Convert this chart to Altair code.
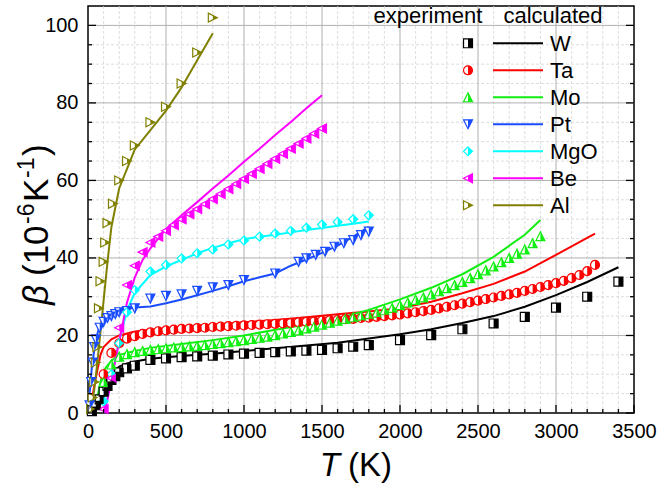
import altair as alt
import pandas as pd

materials = ["W", "Ta", "Mo", "Pt", "MgO", "Be", "Al"]
colors = ["#000000", "#ff0000", "#11ee11", "#1a4cff", "#00ffff", "#ff00ff", "#808000"]

# ---------------- experiment ----------------
W_exp_T = [25, 50, 75, 100, 125, 150, 175, 200, 250, 300, 400, 500, 600, 700, 800, 900, 1000, 1100, 1200,
           1300, 1400, 1500, 1600, 1700, 1800, 2000, 2200, 2400, 2600, 2800, 3000, 3200, 3400]
W_exp_b = [0.5, 2, 3.5, 5.5, 7, 8.5, 9.5, 10.5, 11.5, 12.2, 13.7, 14.1, 14.4, 14.6, 14.8, 15.1, 15.3, 15.5, 15.7,
           15.9, 16.1, 16.3, 16.7, 17.1, 17.5, 18.8, 20.1, 21.6, 23.1, 24.8, 27.2, 30, 33.9]

Ta_exp_T = list(range(100, 3300, 50))
Ta_exp_b = [10, 15.5, 18, 19.2, 19.8, 20.4, 20.8, 21.1, 21.3, 21.5, 21.7, 21.8, 21.9, 22.0, 22.2, 22.3, 22.4,
            22.5, 22.6, 22.7, 22.8, 22.9, 23.0, 23.1, 23.2, 23.4, 23.5, 23.6, 23.8, 23.9, 24.0, 24.2, 24.3,
            24.5, 24.6, 24.8, 25.0, 25.2, 25.4, 25.7, 26.0, 26.3, 26.6, 27.0, 27.4, 27.8, 28.2, 28.6, 29.0,
            29.4, 29.8, 30.2, 30.6, 31.0, 31.5, 32.0, 32.5, 33.0, 33.5, 34.1, 34.8, 35.6, 36.6, 38.2]

Mo_exp_T = list(range(100, 2950, 50))
Mo_exp_b = [8, 12.5, 14.5, 15.2, 15.7, 16.0, 16.3, 16.5, 16.7, 16.9, 17.0, 17.2, 17.3, 17.5, 17.8, 18.0, 18.3,
            18.5, 18.8, 19.1, 19.4, 19.7, 20.1, 20.5, 20.9, 21.3, 21.8, 22.3, 22.8, 23.3, 23.8, 24.3, 24.7,
            25.1, 25.5, 25.9, 26.5, 27.1, 27.8, 28.5, 29.2, 29.8, 30.6, 31.4, 32.2, 33.0, 33.8, 34.8, 35.8,
            36.8, 37.8, 38.9, 40.0, 41.1, 42.2, 43.8, 45.6]

Pt_exp_T = [10, 20, 30, 40, 50, 75, 100, 125, 150, 175, 200, 250, 300, 400, 500, 600, 700, 800, 900, 1000,
            1200, 1350, 1400, 1460, 1520, 1580, 1640, 1700, 1750, 1800]
Pt_exp_b = [2, 8, 13, 17, 19, 22, 23.5, 24.5, 25, 25.5, 26, 26.3, 27, 29.5, 30.2, 30.6, 31.5, 32.4, 33, 34.3,
            36, 39, 39.9, 40.8, 41.6, 42.9, 43.8, 44.6, 45.9, 46.8]

MgO_exp_T = [100, 150, 200, 250, 300, 400, 500, 600, 700, 800, 900, 1000, 1100, 1200, 1300, 1400, 1500,
             1600, 1700, 1800]
MgO_exp_b = [3, 10, 18, 26, 31.7, 36.5, 38.2, 39.9, 41.2, 42.2, 43.5, 44.5, 45.5, 46.3, 47, 47.8, 48.6,
             49.3, 50, 51]

Be_exp_T = list(range(100, 1550, 50))
Be_exp_b = [1, 9, 22, 33, 38, 41.5, 44, 45.5, 47, 48.5, 50, 51.3, 52.6, 53.9, 55.2, 56.5, 57.8, 59.1, 60.4,
            61.7, 63, 64.3, 65.6, 66.9, 68.2, 69.5, 70.8, 72.1, 73.4]

Al_exp_T = [20, 30, 40, 50, 60, 70, 80, 100, 110, 125, 160, 200, 250, 300, 400, 500, 600, 700, 800]
Al_exp_b = [1, 4, 8, 13, 17, 27, 34, 39, 44, 49, 54, 60, 65, 69, 75, 79, 85, 93, 102]

# ---------------- calculated ----------------
W_calc_T = [20, 40, 60, 80, 100, 125, 150, 200, 250, 300, 400, 500, 600, 700, 800, 1000, 1200, 1400, 1600,
            1800, 2000, 2200, 2400, 2600, 2800, 3000, 3200, 3400]
W_calc_b = [0, 0.5, 3, 5.5, 7.5, 9, 10, 12, 12.8, 13.3, 14, 14.4, 14.7, 15, 15.3, 16, 16.7, 17.4, 18.1,
            19.2, 20.3, 21.6, 23.2, 25, 27.4, 30.4, 33.8, 37.6]

Ta_calc_T = [0, 20, 40, 60, 80, 100, 150, 200, 300, 400, 600, 800, 1000, 1200, 1400, 1600, 1800, 2000,
             2200, 2400, 2600, 2800, 3000, 3250]
Ta_calc_b = [0, 2, 7, 11, 15, 17, 19, 20, 21, 21.5, 22.2, 22.8, 23.4, 24, 24.7, 25.5, 26.2, 27, 28.7, 30.9,
             33.3, 36.5, 40.8, 46.3]

Mo_calc_T = [20, 40, 60, 80, 100, 150, 200, 300, 400, 600, 800, 1000, 1200, 1400, 1600, 1800, 2000, 2200,
             2400, 2600, 2800, 2900]
Mo_calc_b = [0, 1, 4, 8, 11, 13.5, 15, 16, 16.8, 17.8, 18.8, 20, 21.5, 22.8, 24.4, 26.6, 29.3, 32.3, 35.8,
             40.3, 46, 49.8]

Pt_calc_T = [0, 25, 50, 75, 100, 150, 200, 250, 300, 400, 500, 600, 700, 800, 900, 1000, 1100, 1200, 1300,
             1400, 1500, 1600, 1700, 1800]
Pt_calc_b = [0, 12, 19, 22.5, 24, 25.5, 26.3, 26.8, 27.2, 27.5, 28.3, 29.3, 30.4, 31.5, 32.7, 34, 35, 36, 38,
             39.6, 41.3, 43.2, 45.5, 48]

MgO_calc_T = [100, 125, 150, 175, 200, 250, 300, 400, 500, 600, 700, 800, 900, 1000, 1100, 1200, 1300, 1400,
              1500, 1600, 1700, 1800]
MgO_calc_b = [0, 4, 9, 13.7, 18.5, 26.5, 31, 35.6, 37.8, 39.5, 41.2, 42.6, 43.8, 44.8, 45.5, 46, 46.6, 47.2,
              47.7, 48.3, 48.8, 49.4]

Be_calc_T = [100, 125, 150, 175, 200, 250, 300, 350, 400, 500, 600, 700, 800, 900, 1000, 1100, 1200, 1300,
             1400, 1500]
Be_calc_b = [0, 3.5, 8.5, 13.5, 18.5, 28.5, 35, 39.5, 42.5, 47.5, 51, 54.4, 57.9, 61.3, 64.8, 68.2, 71.7,
             75.1, 78.6, 82]

Al_calc_T = [15, 20, 40, 60, 80, 100, 125, 150, 200, 250, 300, 400, 500, 600, 700, 800]
Al_calc_b = [0, 0.5, 6, 13, 21, 29, 39, 48, 58, 63, 68, 73, 78, 84, 91, 98]

x_ticks = [0, 500, 1000, 1500, 2000, 2500, 3000, 3500]
y_ticks = [0, 20, 40, 60, 80, 100]

exp_sets = {
    "W": (W_exp_T, W_exp_b), "Ta": (Ta_exp_T, Ta_exp_b), "Mo": (Mo_exp_T, Mo_exp_b),
    "Pt": (Pt_exp_T, Pt_exp_b), "MgO": (MgO_exp_T, MgO_exp_b), "Be": (Be_exp_T, Be_exp_b),
    "Al": (Al_exp_T, Al_exp_b),
}
calc_sets = {
    "W": (W_calc_T, W_calc_b), "Ta": (Ta_calc_T, Ta_calc_b), "Mo": (Mo_calc_T, Mo_calc_b),
    "Pt": (Pt_calc_T, Pt_calc_b), "MgO": (MgO_calc_T, MgO_calc_b), "Be": (Be_calc_T, Be_calc_b),
    "Al": (Al_calc_T, Al_calc_b),
}

exp_df = pd.concat([pd.DataFrame({"T": t, "beta": b, "material": m}) for m, (t, b) in exp_sets.items()])
calc_df = pd.concat([pd.DataFrame({"T": t, "beta": b, "material": m}) for m, (t, b) in calc_sets.items()])

# symbol outlines and right-half fills (unit box -1..1)
outline_paths = [
    "M-1,-1H1V1H-1Z",
    "M-1,0A1,1,0,1,1,1,0A1,1,0,1,1,-1,0Z",
    "M0,-1L1,1H-1Z",
    "M-1,-1H1L0,1Z",
    "M0,-1L1,0L0,1L-1,0Z",
    "M-1,0L1,-1V1Z",
    "M-1,-1L1,0L-1,1Z",
]
half_paths = [
    "M0,-1H1V1H0Z",
    "M0,-1A1,1,0,0,1,0,1Z",
    "M0,-1L1,1H0Z",
    "M0,-1H1L0,1Z",
    "M0,-1L1,0L0,1Z",
    "M0,-0.5L1,-1V1L0,0.5Z",
    "M0,-0.5L1,0L0,0.5Z",
]

W, H = 546, 407
FONT = "Liberation Sans"

xs = alt.Scale(domain=[0, 3500], nice=False, zero=False)
ys = alt.Scale(domain=[0, 105], nice=False, zero=False)
xaxis = alt.Axis(values=x_ticks, title=None, ticks=False, domain=False, grid=False, labelFlush=False,
                 labelOverlap=False, labelPadding=8, tickSize=0, labelFontSize=20, labelFont=FONT,
                 labelColor="black", format="d")
yaxis = alt.Axis(values=y_ticks, title=None, ticks=False, domain=False, grid=False, labelFlush=False,
                 labelOverlap=False, labelPadding=10, tickSize=0, labelFontSize=20, labelFont=FONT,
                 labelColor="black", format="d")


def X():
    return alt.X("T:Q", scale=xs, axis=xaxis)


def Y():
    return alt.Y("beta:Q", scale=ys, axis=yaxis)


minor_x = [v for v in range(100, 3500, 100) if v % 500]
major_x = [v for v in range(500, 3500, 500)]
minor_y = [v for v in range(5, 105, 5) if v % 20]
major_y = [v for v in range(20, 105, 20)]

gx_minor = alt.Chart(pd.DataFrame({"T": minor_x})).mark_rule(
    color="#d4d4d4", strokeDash=[3, 2], strokeWidth=0.8).encode(x=X())
gx_major = alt.Chart(pd.DataFrame({"T": major_x})).mark_rule(
    color="#b0b0b0", strokeWidth=1).encode(x=X())
gy_minor = alt.Chart(pd.DataFrame({"beta": minor_y})).mark_rule(
    color="#d4d4d4", strokeDash=[3, 2], strokeWidth=0.8).encode(y=Y())
gy_major = alt.Chart(pd.DataFrame({"beta": major_y})).mark_rule(
    color="#b0b0b0", strokeWidth=1).encode(y=Y())

# inward ticks
all_x_minor = pd.DataFrame({"T": minor_x})
all_x_major = pd.DataFrame({"T": x_ticks})
all_y_minor = pd.DataFrame({"beta": minor_y})
all_y_major = pd.DataFrame({"beta": y_ticks})
tk = dict(color="black", strokeWidth=1.3)
t_bottom_minor = alt.Chart(all_x_minor).mark_rule(**tk).encode(x=X(), y=alt.value(H), y2=alt.value(H - 4))
t_bottom_major = alt.Chart(all_x_major).mark_rule(**tk).encode(x=X(), y=alt.value(H), y2=alt.value(H - 8))
t_left_minor = alt.Chart(all_y_minor).mark_rule(**tk).encode(y=Y(), x=alt.value(0), x2=alt.value(4))
t_left_major = alt.Chart(all_y_major).mark_rule(**tk).encode(y=Y(), x=alt.value(0), x2=alt.value(8))
t_right_minor = alt.Chart(all_y_minor).mark_rule(**tk).encode(y=Y(), x=alt.value(W), x2=alt.value(W - 4))
t_right_major = alt.Chart(all_y_major).mark_rule(**tk).encode(y=Y(), x=alt.value(W), x2=alt.value(W - 8))

color_scale = alt.Scale(domain=materials, range=colors)

lines = alt.Chart(calc_df).mark_line(strokeWidth=2).encode(
    x=X(), y=Y(),
    color=alt.Color("material:N", scale=color_scale, legend=None),
    detail="material:N",
    order=alt.Order("T:Q"),
)

SZ = 80
pts_outline = alt.Chart(exp_df).mark_point(filled=False, fill="white", fillOpacity=1, strokeWidth=1.2,
                                           size=SZ, opacity=1).encode(
    x=X(), y=Y(),
    stroke=alt.Stroke("material:N", scale=color_scale, legend=None),
    shape=alt.Shape("material:N", scale=alt.Scale(domain=materials, range=outline_paths), legend=None),
)
pts_half = alt.Chart(exp_df).mark_point(filled=True, strokeWidth=0, size=SZ, opacity=1).encode(
    x=X(), y=Y(),
    color=alt.Color("material:N", scale=color_scale, legend=None),
    shape=alt.Shape("material:N", scale=alt.Scale(domain=materials, range=half_paths), legend=None),
)
points = alt.layer(pts_outline, pts_half).resolve_scale(shape="independent")

dummy = pd.DataFrame({"d": [0]})
legend_layers = []
LX_MARK, LX_L1, LX_L2, LX_TXT = 380, 405, 455, 462
for i, m in enumerate(materials):
    yy = 37.3 + 27 * i
    legend_layers.append(alt.Chart(dummy).mark_point(
        filled=False, fill="white", fillOpacity=1, stroke=colors[i], strokeWidth=1.2, size=SZ, opacity=1,
        shape=outline_paths[i]).encode(x=alt.value(LX_MARK), y=alt.value(yy)))
    legend_layers.append(alt.Chart(dummy).mark_point(
        filled=True, color=colors[i], strokeWidth=0, size=SZ, opacity=1,
        shape=half_paths[i]).encode(x=alt.value(LX_MARK), y=alt.value(yy)))
    legend_layers.append(alt.Chart(dummy).mark_rule(color=colors[i], strokeWidth=2).encode(
        x=alt.value(LX_L1), x2=alt.value(LX_L2), y=alt.value(yy)))
    legend_layers.append(alt.Chart(dummy).mark_text(
        text=m, font=FONT, fontSize=22, align="left", baseline="middle", color="black").encode(
        x=alt.value(LX_TXT), y=alt.value(yy + 1)))

headers = [
    alt.Chart(dummy).mark_text(text="experiment", font=FONT, fontSize=22, align="center",
                               baseline="alphabetic", color="black").encode(x=alt.value(340), y=alt.value(17)),
    alt.Chart(dummy).mark_text(text="calculated", font=FONT, fontSize=22, align="center",
                               baseline="alphabetic", color="black").encode(x=alt.value(465), y=alt.value(17)),
]

# axis titles
TS = 33
xt = [
    alt.Chart(dummy).mark_text(text="T", font=FONT, fontSize=TS, fontStyle="italic", align="right",
                               baseline="alphabetic", color="black").encode(x=alt.value(252), y=alt.value(470)),
    alt.Chart(dummy).mark_text(text="(K)", font=FONT, fontSize=TS, align="left",
                               baseline="alphabetic", color="black").encode(x=alt.value(260), y=alt.value(470)),
]
YS = 35
SUP = 23
BX = -40
SX = -54
ypieces = [
    ("β", 299, BX, YS, "italic"),
    ("(10", 270, BX, YS, "normal"),
    ("-6", 218, SX, SUP, "normal"),
    ("K", 196, BX, YS, "normal"),
    ("-1", 172, SX, SUP, "normal"),
    (")", 150, BX, YS, "normal"),
]
yt = [
    alt.Chart(dummy).mark_text(text=t, font=FONT, fontSize=fs, fontStyle=st, align="left", angle=270,
                               baseline="alphabetic", color="black").encode(x=alt.value(xx), y=alt.value(yy))
    for (t, yy, xx, fs, st) in ypieces
]

chart = alt.layer(
    gx_minor, gy_minor, gx_major, gy_major,
    lines, points,
    t_bottom_minor, t_bottom_major, t_left_minor, t_left_major, t_right_minor, t_right_major,
    *legend_layers, *headers, *xt, *yt,
).resolve_scale(shape="independent").properties(
    width=W, height=H,
    padding={"left": 88, "top": 6, "right": 28, "bottom": 73},
    autosize=alt.AutoSizeParams(type="none"),
    background="white",
).configure_view(stroke="black", strokeWidth=1.5)

chart.save("out.html", embed_options={"renderer": "svg", "actions": False})
